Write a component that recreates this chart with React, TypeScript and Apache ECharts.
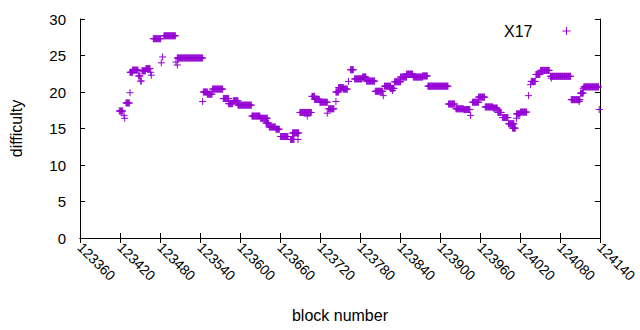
import React, { useEffect, useRef } from "react";
import * as echarts from "echarts";

// Runs of consecutive blocks at one difficulty: start block, end block, value
const runStart = [123419, 123429, 123435, 123439, 123448, 123451, 123453, 123459, 123470, 123486, 123506, 123545, 123551, 123559, 123575, 123583, 123590, 123597, 123618, 123631, 123639, 123644, 123654, 123661, 123676, 123679, 123690, 123708, 123712, 123720, 123733, 123744, 123748, 123755, 123766, 123772, 123784, 123790, 123803, 123817, 123826, 123832, 123841, 123850, 123860, 123874, 123882, 123913, 123924, 123936, 123949, 123958, 123968, 123980, 123987, 123994, 124003, 124009, 124015, 124021, 124037, 124044, 124051, 124066, 124097, 124111, 124116];
const runEnd = [123424, 123434, 123439, 123447, 123450, 123452, 123458, 123465, 123481, 123503, 123544, 123551, 123558, 123574, 123583, 123589, 123597, 123617, 123630, 123641, 123643, 123653, 123659, 123672, 123681, 123688, 123707, 123712, 123719, 123731, 123741, 123748, 123755, 123761, 123770, 123783, 123789, 123802, 123814, 123826, 123831, 123841, 123850, 123859, 123874, 123881, 123912, 123922, 123935, 123945, 123958, 123967, 123979, 123986, 123992, 124002, 124011, 124013, 124020, 124030, 124043, 124050, 124064, 124096, 124110, 124115, 124138];
const runValue = [17.4, 18.5, 22.7, 23.0, 22.2, 21.5, 22.9, 23.2, 27.3, 27.7, 24.66, 20.0, 19.7, 20.4, 19.1, 18.4, 18.8, 18.2, 16.7, 16.4, 15.75, 15.2, 14.9, 13.9, 13.5, 14.4, 17.2, 19.4, 19.0, 18.6, 17.7, 20.0, 20.6, 20.4, 23.05, 21.8, 22.05, 21.5, 20.1, 20.8, 20.5, 21.4, 22.05, 22.45, 22.05, 22.2, 20.8, 18.35, 17.7, 17.6, 18.6, 19.3, 17.95, 17.8, 17.2, 16.5, 15.65, 15.05, 17.0, 17.25, 21.45, 22.4, 22.96, 22.15, 18.95, 19.85, 20.7];

// Isolated blocks
const singleBlock = [123426, 123427, 123435, 123466, 123467, 123482, 123484, 123504, 123506, 123544, 123687, 123701, 123731, 123744, 123763, 123815, 123829, 123946, 124015, 124033, 124036, 124067, 124109, 124115, 124139];
const singleValue = [16.8, 16.4, 19.9, 22.7, 22.3, 24.0, 24.8, 24.1, 23.7, 18.7, 13.5, 16.7, 17.1, 18.7, 21.45, 19.5, 20.2, 16.8, 16.4, 19.5, 21.0, 21.9, 18.7, 20.5, 17.6];

const xMin = 123360;
const xMax = 124140;
const xStep = 60;
const yMin = 0;
const yMax = 30;
const yStep = 5;

const PURPLE = "#9400d3";
const PLUS = "path://M0,4H8M4,0V8";
const FONT = "'Liberation Sans', Arial, sans-serif";

function buildData(): number[][] {
  const pts: number[][] = [];
  for (let i = 0; i < runStart.length; i++) {
    for (let b = runStart[i]; b <= runEnd[i]; b++) pts.push([b, runValue[i]]);
  }
  for (let i = 0; i < singleBlock.length; i++) pts.push([singleBlock[i], singleValue[i]]);
  return pts;
}

export default function App() {
  const ref = useRef<HTMLDivElement>(null);
  useEffect(() => {
    if (!ref.current) return;
    const chart = echarts.init(ref.current, undefined, { renderer: "svg" });
    const axisLine = { show: true, lineStyle: { color: "#000", width: 1 } };
    const tick = { show: true, inside: true, length: 5, lineStyle: { color: "#000" } };
    chart.setOption({
      animation: false,
      backgroundColor: "#fff",
      textStyle: { fontFamily: FONT },
      grid: { left: 74, right: 32, top: 19, bottom: 92, containLabel: false },
      legend: {
        show: true,
        data: [{ name: "X17", icon: PLUS }],
        right: 64,
        top: 18,
        align: "right",
        itemWidth: 8,
        itemHeight: 8,
        itemStyle: { color: PURPLE, borderColor: PURPLE, borderWidth: 1 },
        textStyle: { fontSize: 16, color: "#000", fontFamily: FONT, padding: [0, 25, 0, 0] },
      },
      xAxis: [
        {
          type: "value",
          min: xMin,
          max: xMax,
          interval: xStep,
          name: "block number",
          nameLocation: "middle",
          nameGap: 69,
          nameTextStyle: { fontSize: 16, color: "#000", fontFamily: FONT },
          axisLine,
          axisTick: tick,
          splitLine: { show: false },
          axisLabel: {
            rotate: -45,
            fontSize: 14,
            color: "#000",
            margin: 7,
            fontFamily: FONT,
            showMaxLabel: true,
            formatter: (v: number) => String(v),
          },
        },
        {
          type: "value",
          position: "top",
          min: xMin,
          max: xMax,
          interval: xStep,
          axisLine,
          axisTick: tick,
          splitLine: { show: false },
          axisLabel: { show: false },
        },
      ],
      yAxis: [
        {
          type: "value",
          min: yMin,
          max: yMax,
          interval: yStep,
          name: "difficulty",
          nameLocation: "middle",
          nameRotate: 90,
          nameGap: 56,
          nameTextStyle: { fontSize: 16, color: "#000", fontFamily: FONT },
          axisLine,
          axisTick: tick,
          splitLine: { show: false },
          axisLabel: { fontSize: 15, color: "#000", margin: 14, fontFamily: FONT },
        },
        {
          type: "value",
          position: "right",
          min: yMin,
          max: yMax,
          interval: yStep,
          axisLine,
          axisTick: tick,
          splitLine: { show: false },
          axisLabel: { show: false },
        },
      ],
      series: [
        {
          name: "X17",
          type: "scatter",
          xAxisIndex: 0,
          yAxisIndex: 0,
          symbol: PLUS,
          symbolSize: 7,
          itemStyle: { color: PURPLE, borderColor: PURPLE, borderWidth: 1, opacity: 1 },
          emphasis: { disabled: true },
          data: buildData(),
        },
      ],
    });
    return () => chart.dispose();
  }, []);
  return <div ref={ref} style={{ position: "fixed", left: 0, top: 0, width: 640, height: 330 }} />;
}
